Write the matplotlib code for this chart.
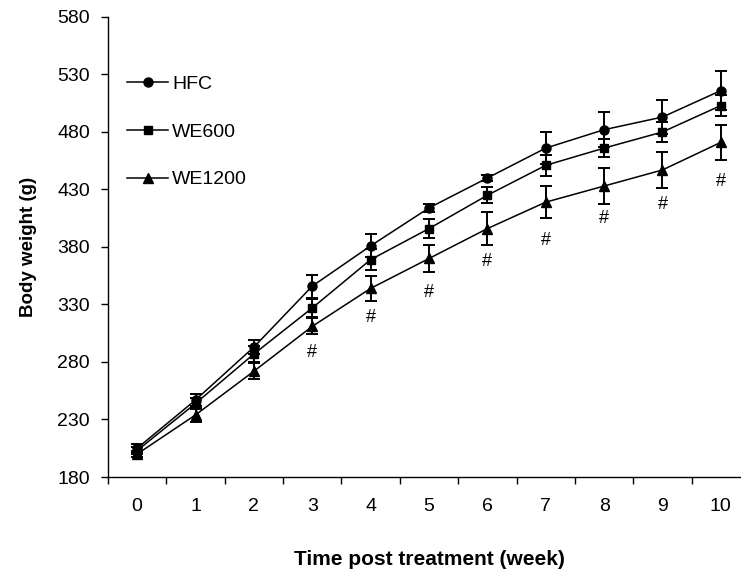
import numpy as np
import matplotlib.pyplot as plt
from matplotlib.lines import Line2D

plt.rcParams['font.family'] = ['Liberation Sans', 'DejaVu Sans']

# body weight (g) per week, mean and error
weeks = np.arange(0, 11)
hfc = [205, 247, 293, 346, 381, 414, 440, 466, 482, 493, 516]
hfc_err = [4, 5, 6, 10, 10, 3.5, 3, 14, 15, 15, 17]
we600 = [203, 244, 287, 327, 369, 396, 425, 451, 466, 480, 503]
we600_err = [3, 5, 7, 8, 9, 8, 7, 9, 8, 9, 9]
we1200 = [200, 234, 272, 311, 344, 370, 396, 419, 433, 447, 471]
we1200_err = [3, 6, 7, 7, 11, 12, 14, 14, 16, 16, 15]

# significance marks (#) under WE1200
hash_weeks = [3, 4, 5, 6, 7, 8, 9, 10]
hash_y = [288, 319, 340, 367, 386, 405, 417, 437]

fig = plt.figure(figsize=(7.41, 5.69), dpi=100)
ax = fig.add_axes([108/741, 92/569, 642/741, 460/569])

series = [('HFC', hfc, hfc_err, 'o', 6.5),
          ('WE600', we600, we600_err, 's', 6),
          ('WE1200', we1200, we1200_err, '^', 7)]
handles = []
for name, y, e, m, ms in series:
    ax.errorbar(weeks, y, yerr=e, color='black', marker=m, markersize=ms,
                linewidth=1.1, elinewidth=1.4, capsize=4.5, capthick=1.4)
    handles.append(Line2D([], [], color='black', marker=m, markersize=ms,
                          linewidth=1.1, label=name))

for x, y in zip(hash_weeks, hash_y):
    ax.text(x, y, '#', ha='center', va='center', fontsize=13)

ax.set_xlim(-0.5, 10.5)
ax.set_ylim(180, 580)
ax.set_yticks(np.arange(180, 581, 50))
ax.set_xticks(weeks)
ax.set_xticks(np.arange(-0.5, 10.6, 1), minor=True)
ax.tick_params(axis='x', which='major', length=0, pad=15, labelsize=14)
ax.tick_params(axis='x', which='minor', length=5, width=1, direction='out')
ax.tick_params(axis='y', length=5, width=1, direction='out', pad=8, labelsize=14)

for s in ['top', 'right']:
    ax.spines[s].set_visible(False)
for s in ['left', 'bottom']:
    ax.spines[s].set_linewidth(1)

ax.set_xlabel('Time post treatment (week)', fontsize=15, fontweight='bold')
ax.xaxis.set_label_coords(0.5, -0.158)
ax.set_ylabel('Body weight (g)', fontsize=13.5, fontweight='bold')
ax.yaxis.set_label_coords(-0.11, 0.5)

ax.legend(handles=handles, loc='upper left', bbox_to_anchor=(0.018, 0.89),
          frameon=False, fontsize=14, handlelength=2.1, handletextpad=0.2,
          labelspacing=1.55, borderaxespad=0)

fig.savefig('out.png', dpi=100)
